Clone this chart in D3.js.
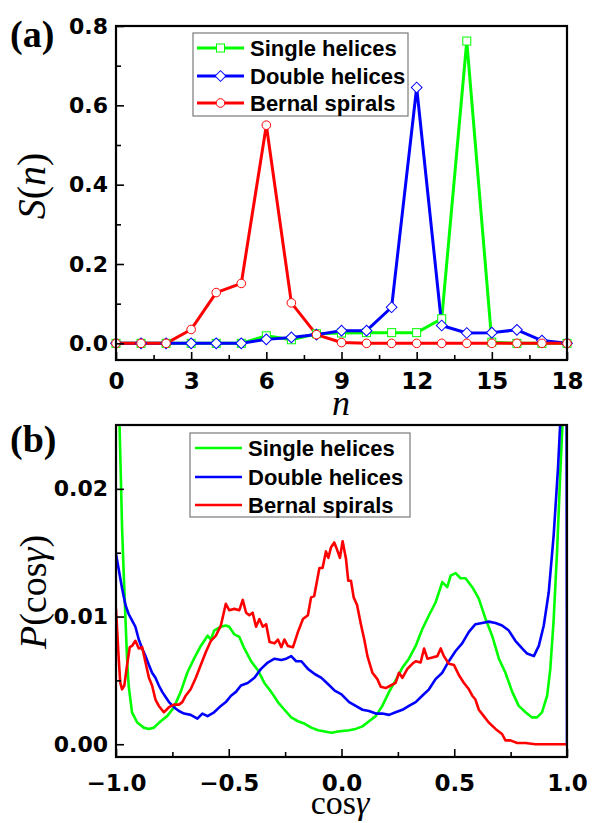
<!DOCTYPE html>
<html>
<head>
<meta charset="utf-8">
<script src="https://cdn.jsdelivr.net/npm/d3@7"></script>
<style>
  body { margin: 0; background: #fff; }
  svg text { fill: #000; }
</style>
</head>
<body>
<svg id="chart" width="594" height="823"></svg>
<script>
// ---------- panel (a): S(n) ----------
const nValues = [0, 1, 2, 3, 4, 5, 6, 7, 8, 9, 10, 11, 12, 13, 14, 15, 16, 17, 18];
const singleS = [0, 0, 0, 0, 0, 0, 0.019, 0.009, 0.024, 0.026, 0.027, 0.027, 0.027, 0.062, 0.762, 0.003, 0, 0, 0];
const doubleS = [0, 0, 0, 0, 0, 0, 0.010, 0.015, 0.022, 0.032, 0.032, 0.091, 0.645, 0.045, 0.026, 0.027, 0.034, 0.007, 0];
const bernalS = [0, 0, 0, 0.035, 0.128, 0.151, 0.550, 0.102, 0.022, 0.002, 0, 0, 0, 0, 0, 0, 0, 0, 0];
const nTicks = [0, 3, 6, 9, 12, 15, 18];
const nMinorTicks = [1.5, 4.5, 7.5, 10.5, 13.5, 16.5];
const sTicks = [0.0, 0.2, 0.4, 0.6, 0.8];
const sMinorTicks = [0.1, 0.3, 0.5, 0.7];

// ---------- panel (b): P(cos gamma) ----------
const singleCurve = [
  [-0.995, 0.035], [-0.985, 0.0255], [-0.973, 0.0169], [-0.966, 0.0135], [-0.958, 0.0098], [-0.951, 0.0067],
  [-0.944, 0.0046], [-0.929, 0.0025], [-0.906, 0.0017], [-0.877, 0.0013], [-0.854, 0.0012], [-0.832, 0.0013],
  [-0.802, 0.0018], [-0.773, 0.0022], [-0.743, 0.0029], [-0.713, 0.0041], [-0.684, 0.0056], [-0.654, 0.0067],
  [-0.624, 0.0077], [-0.594, 0.0085], [-0.579, 0.0082], [-0.565, 0.0089], [-0.535, 0.0092], [-0.513, 0.0093],
  [-0.498, 0.0092], [-0.475, 0.0086], [-0.453, 0.0084], [-0.431, 0.0075], [-0.401, 0.0065], [-0.371, 0.0058],
  [-0.342, 0.0048], [-0.312, 0.0041], [-0.282, 0.0033], [-0.253, 0.0027], [-0.223, 0.0021], [-0.193, 0.0018],
  [-0.163, 0.0016], [-0.134, 0.0013], [-0.104, 0.0011], [-0.074, 0.0010], [-0.045, 0.0009], [-0.015, 0.0010],
  [0.034, 0.0011], [0.063, 0.0012], [0.093, 0.0014], [0.122, 0.0018], [0.152, 0.0022], [0.181, 0.0030],
  [0.211, 0.0041], [0.240, 0.0050], [0.270, 0.0060], [0.299, 0.0067], [0.329, 0.0077], [0.358, 0.0090],
  [0.388, 0.0101], [0.417, 0.0111], [0.447, 0.0127], [0.469, 0.0123], [0.484, 0.0132], [0.506, 0.0134],
  [0.528, 0.0130], [0.550, 0.0130], [0.580, 0.0123], [0.609, 0.0114], [0.639, 0.0098], [0.668, 0.0085],
  [0.698, 0.0067], [0.727, 0.0056], [0.757, 0.0041], [0.786, 0.0030], [0.816, 0.0025], [0.845, 0.0021],
  [0.867, 0.0021], [0.889, 0.0025], [0.912, 0.0038], [0.926, 0.0059], [0.941, 0.0098], [0.956, 0.0151],
  [0.971, 0.0216], [0.981, 0.0255], [0.992, 0.035]
];
const doubleCurve = [
  [-1.000, 0.0149], [-0.988, 0.0137], [-0.973, 0.0122], [-0.958, 0.0109], [-0.944, 0.0102], [-0.929, 0.0097],
  [-0.914, 0.0092], [-0.899, 0.0082], [-0.884, 0.0075], [-0.869, 0.0069], [-0.854, 0.0062], [-0.840, 0.0056],
  [-0.825, 0.0052], [-0.810, 0.0046], [-0.795, 0.0041], [-0.780, 0.0037], [-0.765, 0.0033], [-0.743, 0.0029],
  [-0.721, 0.0026], [-0.698, 0.0024], [-0.669, 0.0023], [-0.639, 0.0020], [-0.617, 0.0024], [-0.594, 0.0022],
  [-0.565, 0.0025], [-0.535, 0.0030], [-0.513, 0.0033], [-0.490, 0.0038], [-0.468, 0.0041], [-0.446, 0.0046],
  [-0.416, 0.0048], [-0.386, 0.0052], [-0.357, 0.0059], [-0.327, 0.0064], [-0.297, 0.0067], [-0.267, 0.0066],
  [-0.245, 0.0067], [-0.223, 0.0069], [-0.201, 0.0065], [-0.178, 0.0065], [-0.149, 0.0059], [-0.119, 0.0055],
  [-0.089, 0.0052], [-0.059, 0.0047], [-0.030, 0.0042], [0.000, 0.0039], [0.034, 0.0033], [0.063, 0.0030],
  [0.093, 0.0027], [0.122, 0.0026], [0.152, 0.0024], [0.181, 0.0024], [0.211, 0.0023], [0.240, 0.0025],
  [0.270, 0.0027], [0.299, 0.0030], [0.329, 0.0033], [0.358, 0.0038], [0.388, 0.0043], [0.417, 0.0051],
  [0.447, 0.0056], [0.476, 0.0065], [0.506, 0.0073], [0.535, 0.0079], [0.565, 0.0088], [0.594, 0.0094],
  [0.624, 0.0095], [0.653, 0.0096], [0.683, 0.0095], [0.712, 0.0093], [0.742, 0.0089], [0.771, 0.0081],
  [0.801, 0.0075], [0.823, 0.0071], [0.853, 0.0069], [0.875, 0.0077], [0.897, 0.0093], [0.919, 0.0119],
  [0.941, 0.0164], [0.960, 0.0216], [0.971, 0.0255], [0.990, 0.040], [0.997, 0.040], [1.000, 0.0]
];
const bernalCurve = [
  [-1.000, 0.0106], [-0.988, 0.0067], [-0.981, 0.0048], [-0.973, 0.0043], [-0.963, 0.0046], [-0.951, 0.0062],
  [-0.939, 0.0076], [-0.929, 0.0077], [-0.914, 0.0081], [-0.899, 0.0075], [-0.884, 0.0076], [-0.869, 0.0064],
  [-0.854, 0.0052], [-0.840, 0.0046], [-0.825, 0.0035], [-0.810, 0.0030], [-0.788, 0.0025], [-0.765, 0.0029],
  [-0.743, 0.0031], [-0.721, 0.0031], [-0.706, 0.0033], [-0.691, 0.0038], [-0.669, 0.0043], [-0.646, 0.0052],
  [-0.624, 0.0062], [-0.602, 0.0072], [-0.579, 0.0081], [-0.557, 0.0085], [-0.535, 0.0093], [-0.513, 0.0110],
  [-0.498, 0.0105], [-0.475, 0.0106], [-0.453, 0.0105], [-0.438, 0.0113], [-0.423, 0.0103], [-0.409, 0.0101],
  [-0.394, 0.0103], [-0.379, 0.0092], [-0.364, 0.0098], [-0.349, 0.0092], [-0.334, 0.0094], [-0.319, 0.0080],
  [-0.297, 0.0079], [-0.282, 0.0082], [-0.267, 0.0076], [-0.253, 0.0082], [-0.238, 0.0077], [-0.215, 0.0076],
  [-0.193, 0.0088], [-0.171, 0.0098], [-0.149, 0.0101], [-0.135, 0.0115], [-0.121, 0.0116], [-0.098, 0.0138],
  [-0.084, 0.0138], [-0.069, 0.0151], [-0.058, 0.0146], [-0.047, 0.0154], [-0.032, 0.0158], [-0.021, 0.0153],
  [-0.007, 0.0146], [0.005, 0.0159], [0.020, 0.0145], [0.030, 0.0128], [0.042, 0.0128], [0.054, 0.0115],
  [0.069, 0.0109], [0.086, 0.0094], [0.101, 0.0082], [0.115, 0.0069], [0.137, 0.0056], [0.159, 0.0051],
  [0.174, 0.0045], [0.196, 0.0044], [0.218, 0.0046], [0.240, 0.0048], [0.255, 0.0056], [0.270, 0.0052],
  [0.292, 0.0059], [0.314, 0.0063], [0.329, 0.0065], [0.351, 0.0064], [0.366, 0.0075], [0.381, 0.0067],
  [0.403, 0.0068], [0.425, 0.0069], [0.440, 0.0075], [0.454, 0.0069], [0.476, 0.0063], [0.499, 0.0062],
  [0.521, 0.0054], [0.543, 0.0048], [0.565, 0.0043], [0.580, 0.0038], [0.594, 0.0035], [0.609, 0.0027],
  [0.631, 0.0022], [0.653, 0.0017], [0.683, 0.0012], [0.712, 0.0008], [0.727, 0.0003], [0.749, 0.0003],
  [0.779, 0.0001], [0.816, 0.0001], [0.860, 0.0], [1.000, 0.0]
];
const cosTicks = [-1.0, -0.5, 0.0, 0.5, 1.0];
const cosMinorTicks = [-0.75, -0.25, 0.25, 0.75];
const pTicks = [0.00, 0.01, 0.02];
const pMinorTicks = [0.005, 0.015];

const seriesNames = ["Single helices", "Double helices", "Bernal spirals"];
const seriesColors = ["#00ff00", "#0000ff", "#ff0000"];

const svg = d3.select("#chart");
const tickFont = "'DejaVu Sans', sans-serif";
const legendFont = "'Liberation Sans', Arial, sans-serif";
const serifFont = "'Liberation Serif', 'Times New Roman', 'DejaVu Serif', serif";

// Shared frame + inward ticks for a panel
function drawAxes(g, x, y, opts) {
  const [x0, x1] = x.range();
  const [y0, y1] = y.range(); // y0 bottom, y1 top

  const xAxis = d3.axisBottom(x).tickValues(opts.xTicks).tickSize(-8).tickPadding(opts.xPad)
    .tickFormat(opts.xFormat);
  const gx = g.append("g").attr("transform", `translate(0,${y0})`).call(xAxis);
  const xMinor = d3.axisBottom(x).tickValues(opts.xMinor).tickSize(-5).tickFormat("");
  const gxm = g.append("g").attr("transform", `translate(0,${y0})`).call(xMinor);

  const yAxis = d3.axisLeft(y).tickValues(opts.yTicks).tickSize(-8).tickPadding(8)
    .tickFormat(opts.yFormat);
  const gy = g.append("g").attr("transform", `translate(${x0},0)`).call(yAxis);
  const yMinor = d3.axisLeft(y).tickValues(opts.yMinor).tickSize(-5).tickFormat("");
  const gym = g.append("g").attr("transform", `translate(${x0},0)`).call(yMinor);

  [gx, gxm, gy, gym].forEach(a => {
    a.select(".domain").remove();
    a.selectAll(".tick line").attr("stroke", "#000").attr("stroke-width", 1.6);
    a.selectAll(".tick text")
      .attr("font-family", tickFont).attr("font-weight", "bold").attr("font-size", 22)
      .attr("fill", "#000");
  });
  gx.selectAll(".tick text").attr("font-size", 23);

  g.append("rect")
    .attr("x", x0).attr("y", y1)
    .attr("width", x1 - x0).attr("height", y0 - y1)
    .attr("fill", "none").attr("stroke", "#000").attr("stroke-width", 2.2);
}

function drawLegend(g, box, rows, withMarkers) {
  g.append("rect")
    .attr("x", box.x).attr("y", box.y).attr("width", box.w).attr("height", box.h)
    .attr("fill", "#fff").attr("stroke", "#7a7a7a").attr("stroke-width", 1.2);
  seriesNames.forEach((name, i) => {
    const yy = rows[i];
    g.append("line")
      .attr("x1", box.lx0).attr("x2", box.lx1).attr("y1", yy).attr("y2", yy)
      .attr("stroke", seriesColors[i]).attr("stroke-width", withMarkers ? 3 : 2.6);
    if (withMarkers) drawMarker(g, i, (box.lx0 + box.lx1) / 2, yy);
    g.append("text")
      .attr("x", box.tx).attr("y", yy + 8)
      .attr("font-family", legendFont).attr("font-weight", "bold").attr("font-size", 22)
      .text(name);
  });
}

function drawMarker(g, i, cx, cy) {
  const c = seriesColors[i];
  if (i === 0) {
    g.append("rect").attr("x", cx - 4).attr("y", cy - 4).attr("width", 8).attr("height", 8)
      .attr("fill", "#fff").attr("stroke", c).attr("stroke-width", 1);
  } else if (i === 1) {
    g.append("rect").attr("x", -3.8).attr("y", -3.8).attr("width", 7.6).attr("height", 7.6)
      .attr("transform", `translate(${cx},${cy}) rotate(45)`)
      .attr("fill", "#fff").attr("stroke", c).attr("stroke-width", 1);
  } else {
    g.append("circle").attr("cx", cx).attr("cy", cy).attr("r", 4.3)
      .attr("fill", "#fff").attr("stroke", c).attr("stroke-width", 1);
  }
}

// ================= panel (a) =================
{
  const g = svg.append("g");
  const x = d3.scaleLinear().domain([0, 18]).range([116, 567]);
  const y = d3.scaleLinear().domain([-0.042, 0.8]).range([360, 26]);

  const seriesS = [singleS, doubleS, bernalS];
  const line = d3.line().x((d, i) => x(nValues[i])).y(d => y(d));
  seriesS.forEach((vals, i) => {
    g.append("path").attr("d", line(vals))
      .attr("fill", "none").attr("stroke", seriesColors[i]).attr("stroke-width", 3)
      .attr("stroke-linejoin", "round");
  });
  seriesS.forEach((vals, i) => {
    vals.forEach((v, k) => drawMarker(g, i, x(nValues[k]), y(v)));
  });

  drawAxes(g, x, y, {
    xTicks: nTicks, xMinor: nMinorTicks, xFormat: d3.format("d"), xPad: 13,
    yTicks: sTicks, yMinor: sMinorTicks, yFormat: d3.format(".1f")
  });

  drawLegend(g, { x: 193, y: 33, w: 215, h: 83, lx0: 197, lx1: 244, tx: 250 }, [48, 76, 103], true);

  g.append("text").attr("x", 10).attr("y", 47)
    .attr("font-family", serifFont).attr("font-weight", "bold").attr("font-size", 38).text("(a)");

  g.append("text")
    .attr("transform", "translate(45,186) rotate(-90)")
    .attr("text-anchor", "middle")
    .attr("font-family", serifFont).attr("font-size", 40)
    .html('<tspan font-style="italic">S</tspan>(<tspan font-style="italic">n</tspan>)');

  g.append("text").attr("x", 341).attr("y", 415).attr("text-anchor", "middle")
    .attr("font-family", serifFont).attr("font-style", "italic").attr("font-size", 36).text("n");
}

// ================= panel (b) =================
{
  const g = svg.append("g");
  const x = d3.scaleLinear().domain([-1, 1]).range([116, 567]);
  const y = d3.scaleLinear().domain([-0.001, 0.025]).range([757, 425]);

  svg.append("defs").append("clipPath").attr("id", "clipB")
    .append("rect").attr("x", 116).attr("y", 425).attr("width", 451).attr("height", 332);

  const line = d3.line().x(d => x(d[0])).y(d => y(d[1]));
  [singleCurve, doubleCurve, bernalCurve].forEach((pts, i) => {
    g.append("path").attr("d", line(pts)).attr("clip-path", "url(#clipB)")
      .attr("fill", "none").attr("stroke", seriesColors[i]).attr("stroke-width", 2.6)
      .attr("stroke-linejoin", "round");
  });

  drawAxes(g, x, y, {
    xTicks: cosTicks, xMinor: cosMinorTicks, xFormat: d3.format(".1f"), xPad: 18,
    yTicks: pTicks, yMinor: pMinorTicks, yFormat: d3.format(".2f")
  });

  drawLegend(g, { x: 190, y: 433, w: 220, h: 84, lx0: 195, lx1: 242, tx: 248 }, [448, 477, 505], false);

  g.append("text").attr("x", 10).attr("y", 452)
    .attr("font-family", serifFont).attr("font-weight", "bold").attr("font-size", 38).text("(b)");

  g.append("text")
    .attr("transform", "translate(46,592) rotate(-90)")
    .attr("text-anchor", "middle")
    .attr("font-family", serifFont).attr("font-size", 38)
    .html('<tspan font-style="italic">P</tspan>(cos<tspan font-style="italic">γ</tspan>)');

  g.append("text").attr("x", 340).attr("y", 814).attr("text-anchor", "middle")
    .attr("font-family", serifFont).attr("font-size", 34)
    .html('cos<tspan font-style="italic">γ</tspan>');
}
</script>
</body>
</html>
